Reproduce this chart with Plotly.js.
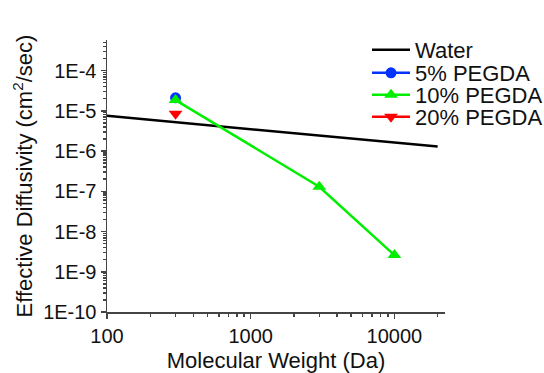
<!DOCTYPE html>
<html>
<head>
<meta charset="utf-8">
<script src="https://cdn.plot.ly/plotly-3.0.1.min.js"></script>
<style>html,body{margin:0;padding:0;background:#fff}#chart{width:544px;height:373px}</style>
</head>
<body>
<div id="chart"></div>
<script>
// Data
const waterMW = [100, 20000];
const waterD = [7.5e-6, 1.3e-6];
const peg5MW = [300];
const peg5D = [2.1e-5];
const peg10MW = [300, 3000, 10000];
const peg10D = [1.85e-5, 1.3e-7, 2.6e-9];
const peg20MW = [300];
const peg20D = [8.4e-6];

const seriesNames = ["Water", "5% PEGDA", "10% PEGDA", "20% PEGDA"];

const yTickVals = [1e-10, 1e-9, 1e-8, 1e-7, 1e-6, 1e-5, 1e-4];
const yTickText = ["1E-10", "1E-9", "1E-8", "1E-7", "1E-6", "1E-5", "1E-4"];
const xTickVals = [100, 1000, 10000];
const xTickText = ["100", "1000", "10000"];
const minorMultipliers = [2, 3, 4, 5, 6, 7, 8, 9];

function minorTicks(decades) {
  const out = [];
  decades.forEach(d => minorMultipliers.forEach(m => out.push(m * d)));
  return out;
}
const xMinor = minorTicks([100, 1000, 10000]);
const yMinor = minorTicks([1e-10, 1e-9, 1e-8, 1e-7, 1e-6, 1e-5, 1e-4]);

const FAMILY = "Liberation Sans, Arial, sans-serif";
const TXT = "#111";
const AX = "#444";

const traces = [
  {x: waterMW, y: waterD, name: seriesNames[0], mode: "lines", legend: "legend",
   line: {color: "#000", width: 2.5}},
  {x: peg5MW, y: peg5D, name: seriesNames[1], mode: "lines+markers", legend: "legend2",
   line: {color: "#0033ff", width: 2.5},
   marker: {symbol: "circle", size: 11, color: "#0033ff"}},
  {x: peg10MW, y: peg10D, name: seriesNames[2], mode: "lines+markers", legend: "legend3",
   line: {color: "#00ee00", width: 2.5},
   marker: {symbol: "triangle-up", size: 12, color: "#00ee00"}},
  {x: peg20MW, y: peg20D, name: seriesNames[3], mode: "lines+markers", legend: "legend4",
   line: {color: "#ff0000", width: 2.5},
   marker: {symbol: "triangle-down", size: 12, color: "#ff0000"}}
];

function legendAt(yPix) {
  return {x: (367 - 107) / 338, y: (312 - yPix) / 272, xanchor: "left", yanchor: "middle",
          font: {family: FAMILY, size: 22, color: TXT},
          bgcolor: "rgba(0,0,0,0)", borderwidth: 0, itemwidth: 38};
}

const layout = {
  width: 544, height: 373,
  margin: {l: 107, r: 99, t: 40, b: 61, autoexpand: false},
  paper_bgcolor: "#fff", plot_bgcolor: "#fff",
  font: {family: FAMILY, size: 20, color: TXT},
  showlegend: true,
  legend: legendAt(50),
  legend2: legendAt(73),
  legend3: legendAt(95),
  legend4: legendAt(117),
  xaxis: {
    type: "log", range: [2, Math.log10(22500)],
    showgrid: false, zeroline: false,
    showline: true, linecolor: AX, linewidth: 1.5,
    ticks: "outside", ticklen: 5, tickcolor: AX, tickwidth: 1.5,
    tickvals: xTickVals, ticktext: xTickText,
    minor: {tickmode: "array", tickvals: xMinor, ticks: "outside", ticklen: 3, tickcolor: AX, showgrid: false},
    tickfont: {size: 20},
    title: {text: "Molecular Weight (Da)", font: {size: 22}, standoff: 13},
    automargin: false
  },
  yaxis: {
    type: "log", range: [-10, -3.24],
    showgrid: false, zeroline: false,
    showline: true, linecolor: AX, linewidth: 1.5,
    ticks: "outside", ticklen: 5, tickcolor: AX, tickwidth: 1.5,
    tickvals: yTickVals, ticktext: yTickText,
    minor: {tickmode: "array", tickvals: yMinor, ticks: "outside", ticklen: 3, tickcolor: AX, showgrid: false},
    tickfont: {size: 20},
    title: {text: "Effective Diffusivity (cm<sup>2</sup>/sec)", font: {size: 22}, standoff: 4},
    automargin: false
  }
};

Plotly.newPlot("chart", traces, layout, {displayModeBar: false, staticPlot: true});
</script>
</body>
</html>
